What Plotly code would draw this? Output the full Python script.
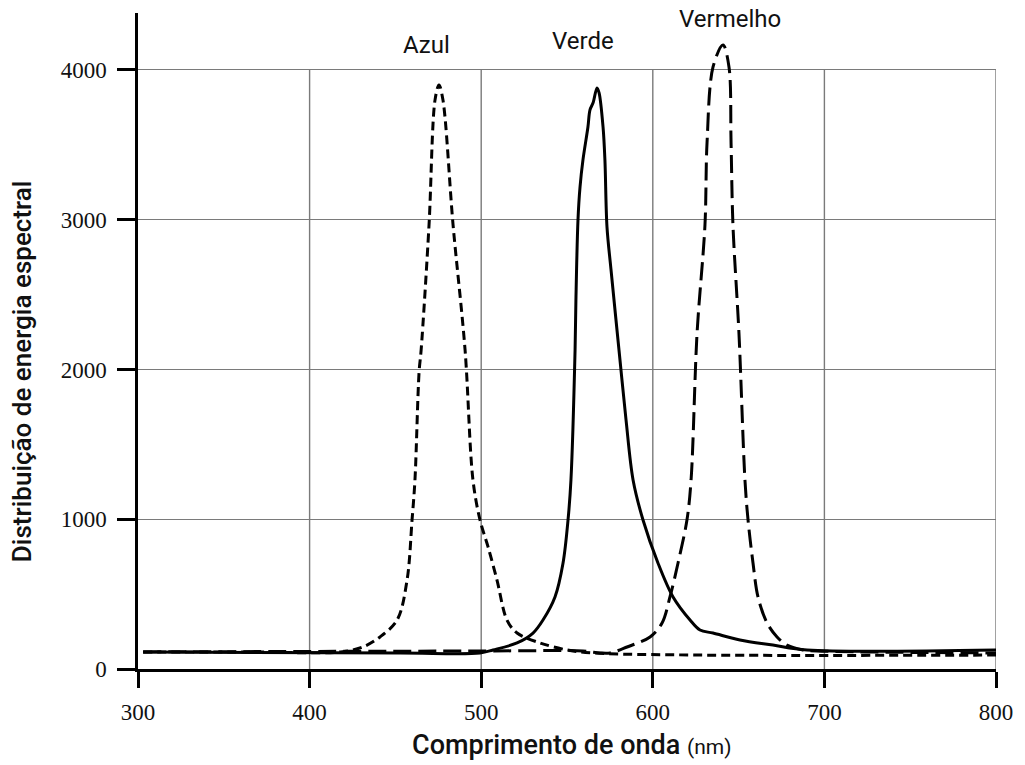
import plotly.graph_objects as go

# ---- data ----
azul_x = [303, 365, 418, 431, 441, 451, 456.8, 459.7, 461.4, 463.8, 465, 469.6, 473.1, 475.4,
          477.7, 483.6, 490.6, 495.2, 499.3, 504, 509.2, 515, 520.9, 534.3, 550, 565.2, 627.5, 800]
azul_y = [114, 114, 114, 147, 214, 327, 594, 995, 1262, 1983, 2130, 2965, 3800, 3900,
          3800, 2965, 2130, 1262, 995, 815, 594, 327, 240, 174, 127, 107, 93, 93]

verde_x = [303, 452.7, 499.3, 506.9, 520.9, 530.2, 536, 543, 547.7, 550.6, 552.3, 554.7, 555.2,
           556.4, 557.6, 559.3, 562.2, 563.4, 565.2, 567.5, 568.7, 571, 572.1, 573.3, 575.6,
           580.3, 584.4, 588.5, 594.3, 603, 611.8, 621.7, 627.5, 635.1, 650.8, 670, 689.9, 800]
verde_y = [114, 107, 107, 127, 174, 240, 327, 481, 708, 995, 1262, 2130, 2464,
           2998, 3219, 3399, 3619, 3733, 3780, 3880, 3847, 3619, 3399, 2952, 2671,
           2130, 1663, 1262, 995, 708, 481, 327, 260, 240, 194, 160, 127, 127]

vermelho_x = [303, 499.3, 559.3, 569.2, 575.1, 585, 598.4, 605.4, 610, 614.7, 619.9, 622.3, 625.8,
              630.4, 631.6, 635.1, 640.9, 644.4, 645.6, 646.7, 650.2, 653.7, 655.5, 658.4, 661.3,
              666.6, 672.4, 678.2, 687.5, 695.7, 800]
vermelho_y = [114, 120, 120, 107, 107, 147, 214, 307, 481, 708, 995, 1262, 2244,
              2965, 3513, 4020, 4167, 4020, 3513, 2965, 2244, 1262, 995, 708, 481,
              307, 214, 160, 127, 120, 107]

peak_labels = ["Azul", "Verde", "Vermelho"]
peak_label_x = [468.4, 559.3, 645.0]
peak_label_y = [4167, 4194, 4341]

x_ticks = [300, 400, 500, 600, 700, 800]
y_ticks = [0, 1000, 2000, 3000, 4000]
x_title = "Comprimento de onda"
x_unit = "(nm)"
y_title = "Distribuição de energia espectral"

# ---- figure ----
fig = go.Figure()
line_w = 3
smooth = 0.95
fig.add_trace(go.Scatter(x=azul_x, y=azul_y, mode="lines",
                         line=dict(color="black", width=line_w, dash="9px,5px",
                                   shape="spline", smoothing=smooth)))
fig.add_trace(go.Scatter(x=verde_x, y=verde_y, mode="lines",
                         line=dict(color="black", width=line_w,
                                   shape="spline", smoothing=smooth)))
fig.add_trace(go.Scatter(x=vermelho_x, y=vermelho_y, mode="lines",
                         line=dict(color="black", width=line_w, dash="18px,7px",
                                   shape="spline", smoothing=smooth)))

grid_color = "#7a7a7a"
for xv in x_ticks[1:]:
    fig.add_shape(type="line", xref="x", yref="y", x0=xv, x1=xv, y0=0, y1=y_ticks[-1],
                  line=dict(color=grid_color, width=1.4), layer="below")

for txt, xv, yv in zip(peak_labels, peak_label_x, peak_label_y):
    fig.add_annotation(x=xv, y=yv, xref="x", yref="y", text=txt, showarrow=False,
                       font=dict(family="Roboto", size=24, color="#111"),
                       xanchor="center", yanchor="middle")

fig.add_annotation(x=0.506, y=-0.116, xref="paper", yref="paper",
                   text=f"{x_title} <span style='font-size:21px;font-weight:400'>{x_unit}</span>",
                   showarrow=False, xanchor="center", yanchor="middle",
                   font=dict(family="Roboto", size=27, color="#111", weight=500))
fig.add_annotation(x=-0.135, y=0.4543, xref="paper", yref="paper",
                   text=y_title, textangle=-90,
                   showarrow=False, xanchor="center", yanchor="middle",
                   font=dict(family="Roboto", size=26, color="#111", weight=500))

tick_font = dict(family="Liberation Serif", size=23, color="#111")
fig.update_xaxes(range=[300, 800], tickvals=x_ticks, ticks="outside", ticklen=16,
                 tickwidth=2.5, tickcolor="black", showline=True, linewidth=2.5,
                 linecolor="black", showgrid=False, zeroline=False, tickfont=tick_font,
                 ticklabelstandoff=5)
fig.update_yaxes(range=[0, 4380], tickvals=y_ticks, ticks="outside", ticklen=18,
                 tickwidth=2.5, tickcolor="black", showline=True, linewidth=2.5,
                 linecolor="black", showgrid=True, gridcolor=grid_color, gridwidth=1.4,
                 zeroline=False, tickfont=tick_font, ticklabelstandoff=6)

fig.update_layout(width=1025, height=765, margin=dict(l=138, r=29, t=13, b=96),
                  plot_bgcolor="white", paper_bgcolor="white", showlegend=False)

fig.write_html("out.html")
